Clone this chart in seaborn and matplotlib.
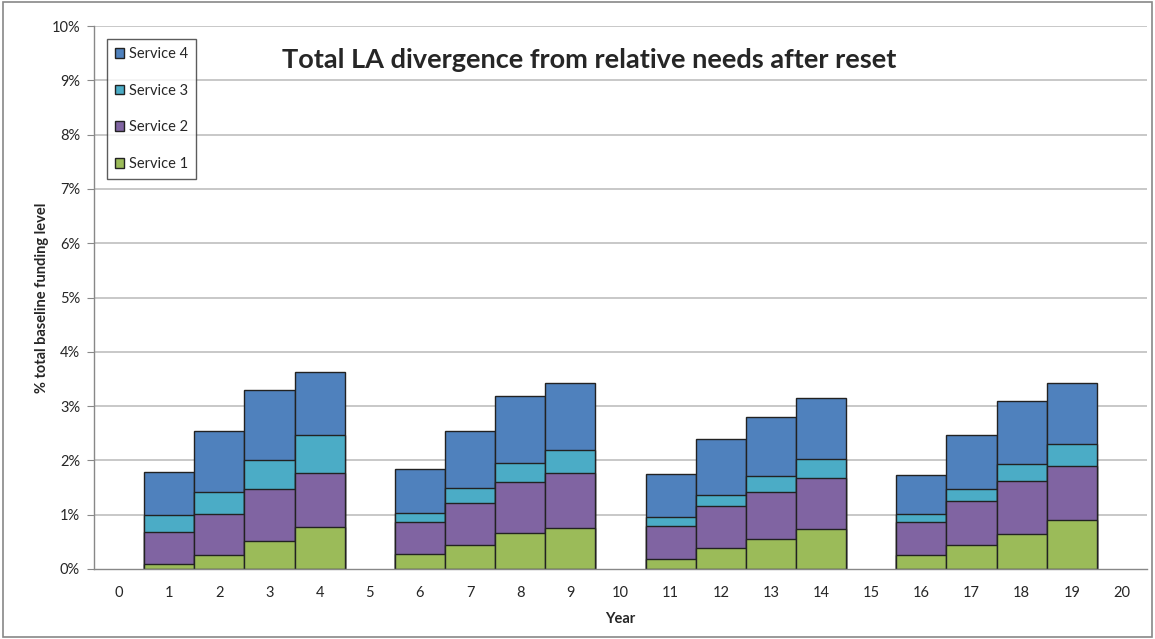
import numpy as np
import pandas as pd
import matplotlib
matplotlib.use('Agg')
import matplotlib.pyplot as plt
from matplotlib.patches import Patch, Rectangle
import seaborn as sns

# Data (% of total baseline funding level, per service segment)
years = list(range(21))
bar_years = [1, 2, 3, 4, 6, 7, 8, 9, 11, 12, 13, 14, 16, 17, 18, 19]
service_1 = [0.10, 0.25, 0.51, 0.77, 0.28, 0.45, 0.66, 0.76, 0.19, 0.38, 0.56, 0.74, 0.25, 0.44, 0.64, 0.90]
service_2 = [0.59, 0.76, 0.96, 0.99, 0.58, 0.77, 0.94, 1.00, 0.61, 0.78, 0.86, 0.93, 0.61, 0.81, 0.98, 1.00]
service_3 = [0.30, 0.40, 0.54, 0.70, 0.17, 0.28, 0.35, 0.44, 0.15, 0.21, 0.30, 0.36, 0.15, 0.23, 0.32, 0.40]
service_4 = [0.80, 1.13, 1.28, 1.17, 0.82, 1.05, 1.23, 1.22, 0.80, 1.02, 1.08, 1.11, 0.72, 0.99, 1.15, 1.12]

series_names = ['Service 1', 'Service 2', 'Service 3', 'Service 4']
colors = ['#9BBB59', '#8064A2', '#4BACC6', '#4F81BD']
edge = '#222222'

df = pd.DataFrame({'Year': bar_years, 'Service 1': service_1, 'Service 2': service_2,
                   'Service 3': service_3, 'Service 4': service_4})
cum = df[series_names].cumsum(axis=1)

sns.set_style('white')
plt.rcParams['font.family'] = ['Lato', 'DejaVu Sans']

fig = plt.figure(figsize=(11.55, 6.39), dpi=100)
ax = fig.add_axes([94 / 1155, 1 - 569 / 639, (1147 - 94) / 1155, (569 - 26) / 639])

# gridlines
for v in range(1, 11):
    ax.axhline(v, color='#c4c4c4', lw=1.3, zorder=0)

# stacked bars: draw cumulative totals from top to bottom
for name, col in zip(series_names[::-1], colors[::-1]):
    plot_df = pd.DataFrame({'Year': df['Year'], 'val': cum[name]})
    sns.barplot(data=plot_df, x='Year', y='val', order=years, color=col, width=1.0,
                edgecolor=edge, linewidth=1.0, errorbar=None, saturation=1, ax=ax)

ax.set_xlim(-0.5, 20.5)
ax.set_ylim(0, 10)
ax.set_xticks(years)
ax.set_xticklabels([str(y) for y in years], fontsize=10.5)
ax.set_xticks(np.arange(-0.5, 21, 1), minor=True)
ax.tick_params(axis='x', which='major', length=0, pad=12)
ax.tick_params(axis='x', which='minor', length=6, color='#888888', direction='out')
ax.set_yticks(range(11))
ax.set_yticklabels([f'{v}%' for v in range(11)], fontsize=10.5)
ax.tick_params(axis='y', length=5, color='#888888', direction='out', pad=5)
ax.tick_params(bottom=True, left=True)

for s in ['top', 'right']:
    ax.spines[s].set_visible(False)
for s in ['left', 'bottom']:
    ax.spines[s].set_color('#888888')
    ax.spines[s].set_linewidth(1.0)

ax.set_xlabel('Year', fontsize=10.5, fontweight='bold', labelpad=9)
ax.set_ylabel('% total baseline funding level', fontsize=10.5, fontweight='bold', labelpad=2)

ax.text(0.470, 0.938, 'Total LA divergence from relative needs after reset', transform=ax.transAxes,
        ha='center', va='center', fontsize=19.5, fontweight='bold')

handles = [Patch(facecolor=c, edgecolor=edge, label=n) for n, c in zip(series_names, colors)]
leg = ax.legend(handles=handles[::-1], loc='upper left', bbox_to_anchor=(0.012, 0.976),
                fontsize=10.5, frameon=True, fancybox=False, handlelength=0.65, handleheight=0.65,
                handletextpad=0.35, labelspacing=1.55, borderpad=0.55, borderaxespad=0)
leg.get_frame().set_edgecolor('#333333')
leg.get_frame().set_linewidth(1.0)

fig.patches.append(Rectangle((0.003, 0.003), 0.994, 0.994, transform=fig.transFigure,
                             fill=False, edgecolor='#888888', lw=1.2))

fig.savefig('out.png', dpi=100)
